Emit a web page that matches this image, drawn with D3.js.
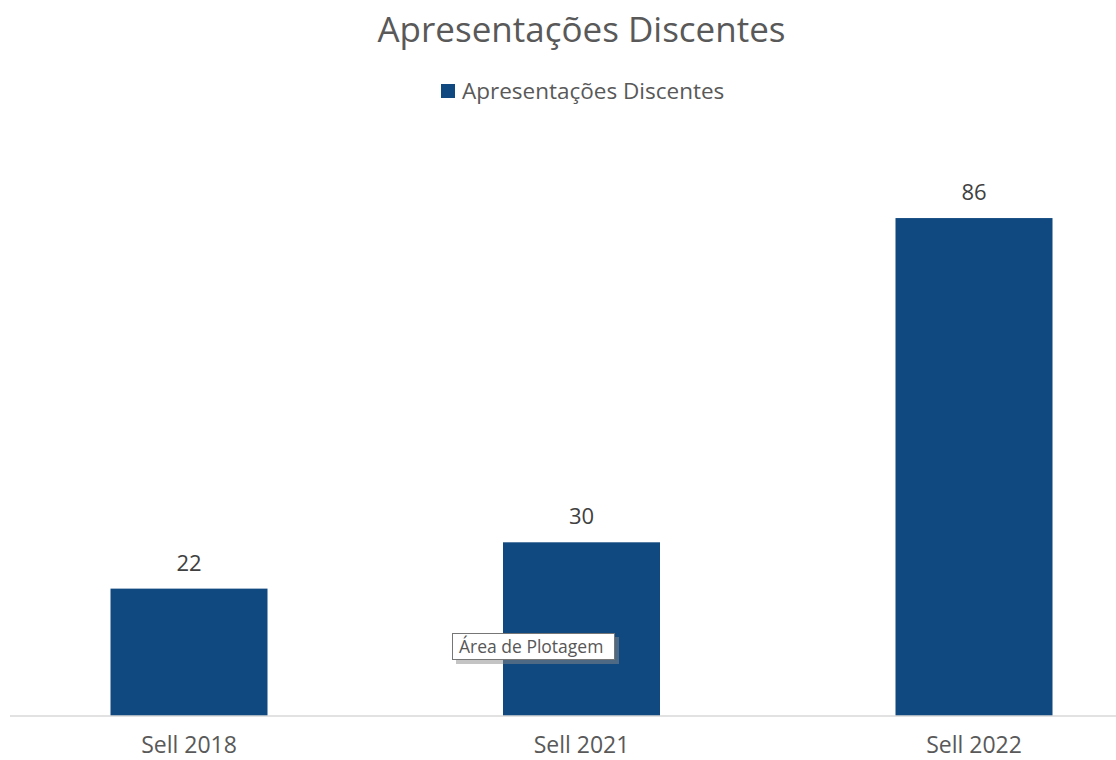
<!DOCTYPE html>
<html><head><meta charset="utf-8">
<script src="https://cdn.jsdelivr.net/npm/d3@7"></script>
<style>body{margin:0;background:#fff}</style>
</head><body>
<svg id="c" width="1116" height="760"></svg>
<script>
const categories = ["Sell 2018", "Sell 2021", "Sell 2022"];
const values = [22, 30, 86];
const seriesName = "Apresentações Discentes";
const titleText = "Apresentações Discentes";
const tooltipText = "Área de Plotagem";

const W = 1116, H = 760;
const svg = d3.select("#c");
const font = "'Open Sans', sans-serif";
const barColor = "#10497f";

const x = d3.scaleBand().domain(categories).range([-7.25, 1170.25]).paddingInner(0.6).paddingOuter(0.3);
const y = d3.scaleLinear().domain([0, 100]).range([716, 137]);

// title
svg.append("text").attr("x", 581.5).attr("y", 42).attr("text-anchor", "middle")
  .attr("font-family", font).attr("font-size", 35).attr("fill", "#595959").text(titleText);

// legend
const lg = svg.append("g");
lg.append("text").attr("x", 462).attr("y", 99).attr("font-family", font)
  .attr("font-size", 22.5).attr("fill", "#595959").text(seriesName);
lg.append("rect").attr("x", 441).attr("y", 84).attr("width", 14).attr("height", 14).attr("fill", barColor);

// bars
svg.selectAll("rect.bar").data(values).join("rect").attr("class", "bar")
  .attr("x", (d, i) => x(categories[i])).attr("width", x.bandwidth())
  .attr("y", d => y(d)).attr("height", d => y(0) - y(d)).attr("fill", barColor);

// value labels
svg.selectAll("text.val").data(values).join("text").attr("class", "val")
  .attr("x", (d, i) => x(categories[i]) + x.bandwidth() / 2).attr("y", d => y(d) - 18)
  .attr("text-anchor", "middle").attr("font-family", font).attr("font-size", 22)
  .attr("fill", "#404040").text(d => d);

// axis
const ax = svg.append("g").attr("transform", `translate(0,${y(0)})`)
  .call(d3.axisBottom(x).tickSize(0).tickPadding(21));
ax.select(".domain").remove();
ax.append("line").attr("x1", 10).attr("x2", 1116).attr("stroke", "#d9d9d9").attr("stroke-width", 1.5);
ax.selectAll(".tick text").attr("font-family", font).attr("font-size", 23).attr("fill", "#595959");

// tooltip
const tg = svg.append("g");
tg.append("rect").attr("x", 456).attr("y", 637).attr("width", 163).attr("height", 27).attr("fill", "#8a8a8a").attr("opacity", 0.5);
tg.append("rect").attr("x", 452.5).attr("y", 633.5).attr("width", 162).attr("height", 26).attr("fill", "#fff").attr("stroke", "#767676");
tg.append("text").attr("x", 459).attr("y", 652.5).attr("font-family", font).attr("font-size", 17.5).attr("fill", "#575757").text(tooltipText);
</script>
</body></html>
